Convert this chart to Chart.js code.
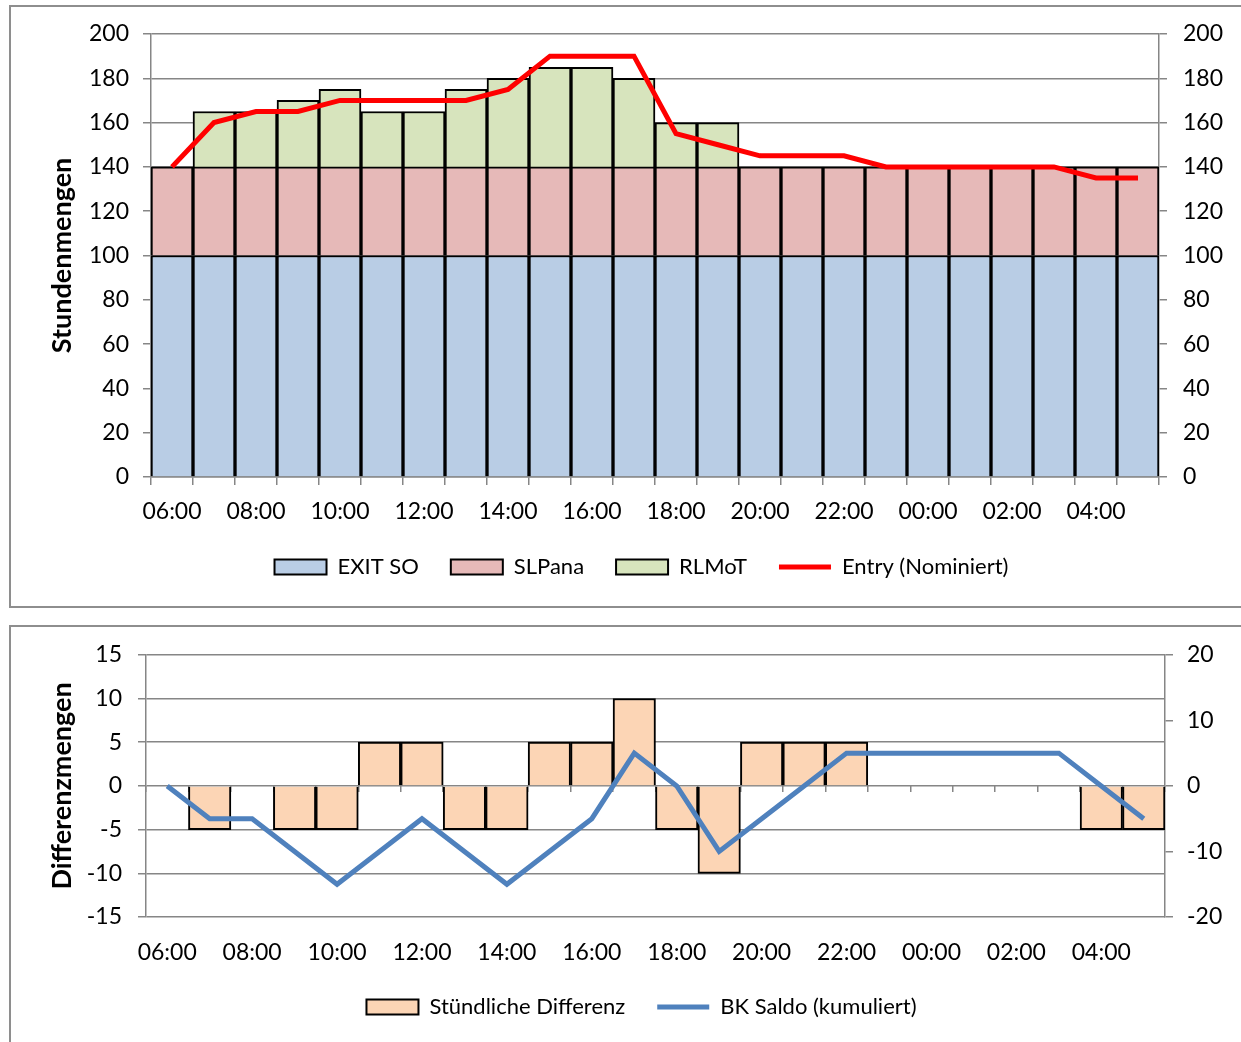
<!DOCTYPE html>
<html>
<head>
<meta charset="utf-8">
<script src="https://cdn.jsdelivr.net/npm/chart.js@4.4.1/dist/chart.umd.min.js"></script>
<style>
body { margin: 0; background: #fff; width: 1241px; height: 1042px; overflow: hidden; position: relative; }
.box { position: absolute; left: 9px; width: 1245px; border: 2px solid #8e8e8e; box-sizing: border-box; }
#box1 { top: 5px; height: 603px; }
#box2 { top: 625px; height: 440px; }
.wrap { position: absolute; left: 0; width: 1241px; }
#w1 { top: 0; height: 607px; }
#w2 { top: 625px; height: 417px; }
</style>
</head>
<body>
<div class="box" id="box1"></div>
<div class="box" id="box2"></div>
<div class="wrap" id="w1"><canvas id="top"></canvas></div>
<div class="wrap" id="w2"><canvas id="bottom"></canvas></div>
<script>
var hours = ['06:00','07:00','08:00','09:00','10:00','11:00','12:00','13:00','14:00','15:00','16:00','17:00',
             '18:00','19:00','20:00','21:00','22:00','23:00','00:00','01:00','02:00','03:00','04:00','05:00'];

// stacked exits per hour
var exitSo = [100,100,100,100,100,100,100,100,100,100,100,100,100,100,100,100,100,100,100,100,100,100,100,100];
var slPana = [40,40,40,40,40,40,40,40,40,40,40,40,40,40,40,40,40,40,40,40,40,40,40,40];
var rlMoT  = [0,25,25,30,35,25,25,35,40,45,45,40,20,20,0,0,0,0,0,0,0,0,0,0];
var entry  = [140,160,165,165,170,170,170,170,175,190,190,190,155,150,145,145,145,140,140,140,140,140,135,135];

// lower chart
var diffHourly = [0,-5,0,-5,-5,5,5,-5,-5,5,5,10,-5,-10,5,5,5,0,0,0,0,0,-5,-5];
var bkSaldo    = [0,-5,-5,-10,-15,-10,-5,-10,-15,-10,-5,5,0,-10,-5,0,5,5,5,5,5,5,0,-5];

var FONT = 'Lato, "Open Sans", sans-serif';
var GRID = '#868686';
Chart.defaults.font.family = FONT;
Chart.defaults.color = '#000';
Chart.defaults.animation = false;

function everyOther(v, i) { return i % 2 === 0 ? hours[i] : ''; }
function fixW(w) { return function (s) { s.width = w; }; }
function fixH(h) { return function (s) { s.height = h; }; }

var legendOpts = {
  position: 'bottom',
  labels: {
    usePointStyle: true, pointStyleWidth: 52, boxHeight: 15,
    font: { size: 22 }, color: '#000', padding: 32,
    sort: function (a, b) { return a.datasetIndex - b.datasetIndex; }
  }
};

new Chart(document.getElementById('top'), {
  type: 'bar',
  data: {
    labels: hours,
    datasets: [
      { label: 'EXIT SO', data: exitSo, backgroundColor: '#B9CDE5', borderColor: '#000', borderWidth: 2, stack: 's', order: 1, pointStyle: 'rect' },
      { label: 'SLPana', data: slPana, backgroundColor: '#E6B9B8', borderColor: '#000', borderWidth: 2, stack: 's', order: 1, pointStyle: 'rect' },
      { label: 'RLMoT', data: rlMoT, backgroundColor: '#D7E4BD', borderColor: '#000', borderWidth: 2, stack: 's', order: 1, pointStyle: 'rect' },
      { type: 'line', label: 'Entry (Nominiert)', data: entry, borderColor: '#FF0000', backgroundColor: '#FF0000',
        borderWidth: 5, pointRadius: 0, tension: 0, stack: 'line', order: 0, pointStyle: 'line' }
    ]
  },
  options: {
    responsive: true, maintainAspectRatio: false,
    categoryPercentage: 1, barPercentage: 1,
    layout: { padding: { left: 42, top: 34, right: 0, bottom: 19 } },
    plugins: { legend: legendOpts, tooltip: { enabled: false } },
    scales: {
      x: {
        stacked: true,
        grid: { drawOnChartArea: false, drawTicks: true, tickLength: 8, color: GRID, lineWidth: 1.5 },
        border: { color: GRID, width: 1.5 },
        ticks: { autoSkip: false, maxRotation: 0, padding: 13, font: { size: 23 }, callback: everyOther },
        afterFit: fixH(47)
      },
      y: {
        stacked: true, min: 0, max: 200,
        ticks: { stepSize: 20, padding: 14, font: { size: 23 } },
        grid: { color: GRID, lineWidth: 1.5, tickLength: 8 },
        border: { color: GRID, width: 1.5 },
        title: { display: true, text: 'Stundenmengen', font: { size: 27, weight: 'bold' } },
        afterFit: fixW(109)
      },
      y2: {
        position: 'right', min: 0, max: 200,
        ticks: { stepSize: 20, padding: 16, font: { size: 23 } },
        grid: { drawOnChartArea: false, color: GRID, lineWidth: 1.5, tickLength: 8 },
        border: { color: GRID, width: 1.5 },
        afterFit: fixW(82)
      }
    }
  }
});

new Chart(document.getElementById('bottom'), {
  type: 'bar',
  data: {
    labels: hours,
    datasets: [
      { label: 'Stündliche Differenz', data: diffHourly, backgroundColor: '#FCD5B5', borderColor: '#000', borderWidth: 2,
        yAxisID: 'y', order: 1, pointStyle: 'rect' },
      { type: 'line', label: 'BK Saldo (kumuliert)', data: bkSaldo, borderColor: '#4F81BD', backgroundColor: '#4F81BD',
        borderWidth: 5, pointRadius: 0, tension: 0, yAxisID: 'y2', order: 0, pointStyle: 'line' }
    ]
  },
  options: {
    responsive: true, maintainAspectRatio: false,
    categoryPercentage: 1, barPercentage: 1,
    layout: { padding: { left: 42, top: 29, right: 0, bottom: 14 } },
    plugins: { legend: legendOpts, tooltip: { enabled: false } },
    scales: {
      x: {
        grid: { display: false, drawTicks: false },
        border: { display: false },
        ticks: { autoSkip: false, maxRotation: 0, padding: 22, font: { size: 23 }, callback: everyOther },
        afterFit: fixH(47)
      },
      x0: {
        type: 'category', position: { y: 0 }, offset: true,
        grid: { offset: true, drawOnChartArea: false, drawTicks: true, tickLength: 6, color: GRID, lineWidth: 1.5 },
        border: { display: false },
        ticks: { display: false }
      },
      y: {
        min: -15, max: 15,
        ticks: { stepSize: 5, padding: 16, font: { size: 23 } },
        grid: { color: GRID, lineWidth: 1.5, tickLength: 8 },
        border: { color: GRID, width: 1.5 },
        title: { display: true, text: 'Differenzmengen', font: { size: 27, weight: 'bold' } },
        afterFit: fixW(104)
      },
      y2: {
        position: 'right', min: -20, max: 20,
        ticks: { stepSize: 10, padding: 14, font: { size: 23 } },
        grid: { drawOnChartArea: false, color: GRID, lineWidth: 1.5, tickLength: 8 },
        border: { color: GRID, width: 1.5 },
        afterFit: fixW(76)
      }
    }
  }
});
</script>
</body>
</html>
